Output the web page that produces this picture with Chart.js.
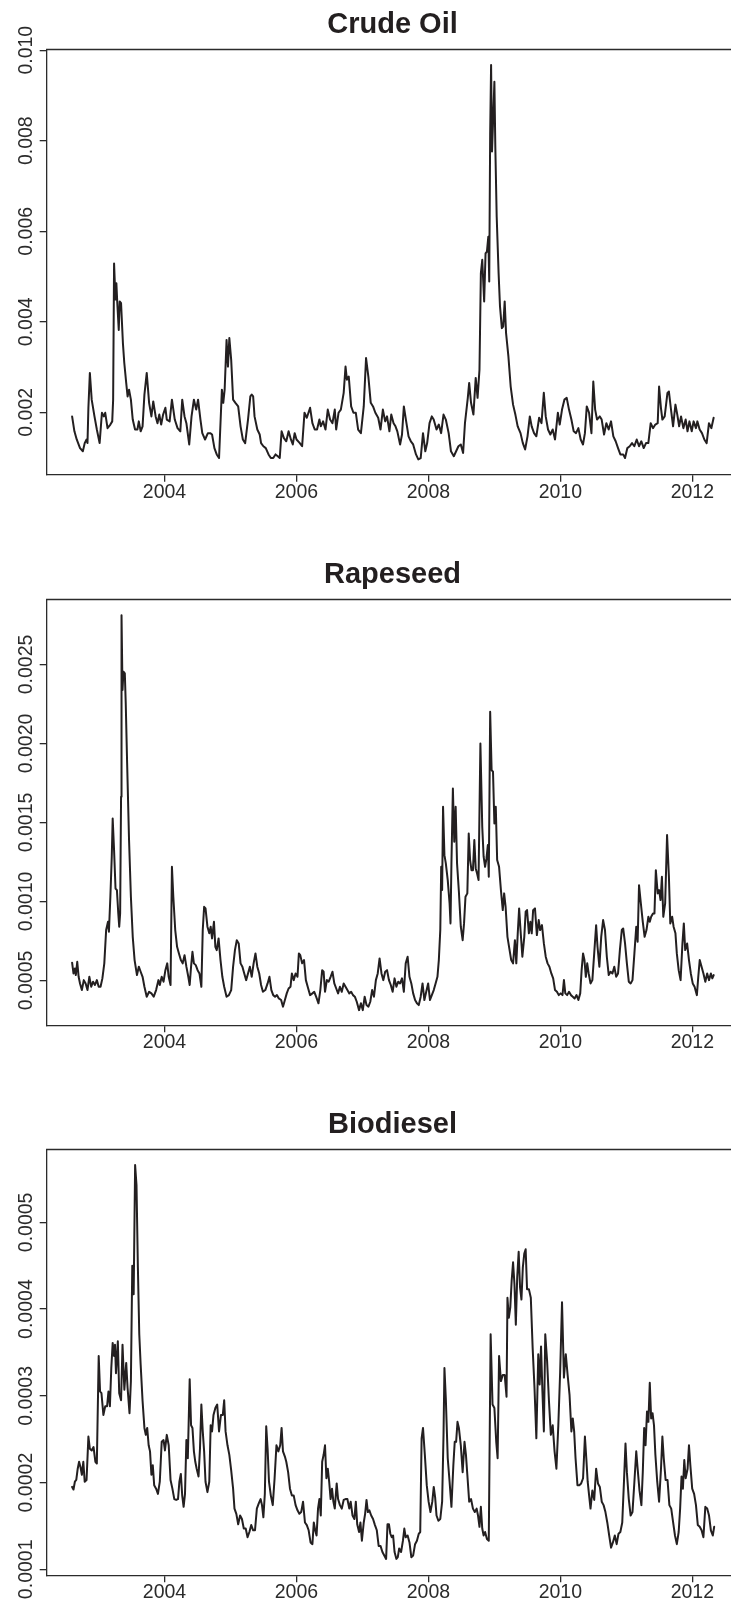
<!DOCTYPE html>
<html><head><meta charset="utf-8">
<script src="https://cdn.jsdelivr.net/npm/chart.js@4.4.1/dist/chart.umd.min.js"></script>
<style>
html,body{margin:0;padding:0;background:#fff;}
body{width:731px;height:1605px;position:relative;overflow:hidden;}
.panel{position:absolute;left:0;width:731px;}
canvas{display:block;}
</style></head><body>
<div class="panel" style="top:0;height:550px"><canvas id="c1" width="731" height="550"></canvas></div>
<div class="panel" style="top:550px;height:550px"><canvas id="c2" width="731" height="550"></canvas></div>
<div class="panel" style="top:1100px;height:505px"><canvas id="c3" width="731" height="505"></canvas></div>
<script>
// ---------------- DATA ----------------
const titles = ["Crude Oil", "Rapeseed", "Biodiesel"];
const xTicks = [2004, 2006, 2008, 2010, 2012];

const crudeTicks = [0.002, 0.004, 0.006, 0.008, 0.010];
const crudeTickLabels = ["0.002", "0.004", "0.006", "0.008", "0.010"];
const rapeTicks = [0.0005, 0.0010, 0.0015, 0.0020, 0.0025];
const rapeTickLabels = ["0.0005", "0.0010", "0.0015", "0.0020", "0.0025"];
const bioTicks = [0.0001, 0.0002, 0.0003, 0.0004, 0.0005];
const bioTickLabels = ["0.0001", "0.0002", "0.0003", "0.0004", "0.0005"];

const crudeYear = [
2002.600,2002.635,2002.670,2002.720,2002.763,2002.791,2002.819,2002.833,2002.847,2002.869,
2002.897,2002.939,2002.975,2003.017,2003.052,2003.081,2003.102,2003.137,2003.180,2003.208,
2003.222,2003.236,2003.257,2003.271,2003.285,2003.307,2003.321,2003.342,2003.370,2003.391,
2003.420,2003.441,2003.463,2003.491,2003.519,2003.554,2003.590,2003.611,2003.639,2003.668,
2003.696,2003.731,2003.767,2003.802,2003.830,2003.866,2003.894,2003.922,2003.950,2003.979,
2004.014,2004.035,2004.078,2004.113,2004.156,2004.198,2004.240,2004.269,2004.304,2004.332,
2004.375,2004.410,2004.446,2004.481,2004.509,2004.545,2004.573,2004.615,2004.658,2004.693,
2004.721,2004.757,2004.792,2004.827,2004.870,2004.891,2004.912,2004.941,2004.962,2004.983,
2005.011,2005.040,2005.075,2005.117,2005.153,2005.188,2005.223,2005.266,2005.301,2005.322,
2005.344,2005.365,2005.407,2005.443,2005.464,2005.499,2005.535,2005.577,2005.612,2005.648,
2005.683,2005.718,2005.747,2005.775,2005.810,2005.846,2005.881,2005.916,2005.945,2005.973,
2006.001,2006.051,2006.086,2006.122,2006.157,2006.207,2006.242,2006.277,2006.312,2006.348,
2006.369,2006.404,2006.440,2006.475,2006.510,2006.546,2006.581,2006.602,2006.638,2006.673,
2006.716,2006.744,2006.765,2006.793,2006.829,2006.864,2006.900,2006.935,2006.977,2007.020,
2007.055,2007.090,2007.126,2007.161,2007.196,2007.239,2007.274,2007.310,2007.345,2007.373,
2007.409,2007.437,2007.472,2007.501,2007.529,2007.571,2007.600,2007.628,2007.663,2007.699,
2007.734,2007.769,2007.812,2007.847,2007.883,2007.918,2007.953,2007.981,2008.017,2008.052,
2008.080,2008.123,2008.158,2008.193,2008.229,2008.264,2008.307,2008.342,2008.385,2008.420,
2008.455,2008.491,2008.526,2008.554,2008.597,2008.618,2008.646,2008.682,2008.717,2008.745,
2008.774,2008.795,2008.816,2008.845,2008.866,2008.887,2008.908,2008.922,2008.936,2008.950,
2008.964,2008.986,2009.000,2009.014,2009.035,2009.064,2009.085,2009.113,2009.134,2009.156,
2009.177,2009.212,2009.247,2009.283,2009.318,2009.353,2009.396,2009.431,2009.466,2009.502,
2009.537,2009.565,2009.601,2009.636,2009.678,2009.714,2009.749,2009.778,2009.813,2009.848,
2009.884,2009.919,2009.962,2009.990,2010.025,2010.061,2010.096,2010.131,2010.167,2010.202,
2010.237,2010.273,2010.308,2010.343,2010.372,2010.400,2010.435,2010.471,2010.499,2010.527,
2010.556,2010.598,2010.626,2010.662,2010.697,2010.732,2010.768,2010.803,2010.838,2010.874,
2010.909,2010.952,2010.980,2011.015,2011.051,2011.086,2011.121,2011.157,2011.192,2011.227,
2011.263,2011.298,2011.333,2011.369,2011.404,2011.439,2011.475,2011.496,2011.524,2011.546,
2011.581,2011.623,2011.645,2011.680,2011.708,2011.744,2011.772,2011.800,2011.829,2011.864,
2011.899,2011.927,2011.956,2011.991,2012.019,2012.055,2012.076,2012.111,2012.146,2012.182,
2012.217,2012.252,2012.288,2012.323];
const crudeVol = [
0.00191,0.00158,0.00140,0.00121,0.00114,0.00132,0.00140,0.00132,0.00210,0.00287,
0.00228,0.00191,0.00162,0.00132,0.00199,0.00191,0.00199,0.00165,0.00173,0.00180,
0.00228,0.00529,0.00449,0.00485,0.00441,0.00382,0.00445,0.00441,0.00353,0.00309,
0.00265,0.00235,0.00250,0.00228,0.00184,0.00162,0.00162,0.00180,0.00158,0.00169,
0.00239,0.00287,0.00221,0.00191,0.00224,0.00191,0.00176,0.00195,0.00173,0.00195,
0.00210,0.00184,0.00180,0.00228,0.00184,0.00165,0.00158,0.00228,0.00191,0.00176,
0.00129,0.00191,0.00228,0.00206,0.00228,0.00184,0.00154,0.00140,0.00154,0.00154,
0.00151,0.00121,0.00107,0.00099,0.00250,0.00221,0.00250,0.00360,0.00301,0.00364,
0.00316,0.00228,0.00221,0.00213,0.00169,0.00140,0.00132,0.00184,0.00235,0.00239,
0.00235,0.00191,0.00162,0.00151,0.00132,0.00125,0.00121,0.00107,0.00099,0.00099,
0.00107,0.00103,0.00099,0.00158,0.00143,0.00136,0.00158,0.00140,0.00129,0.00154,
0.00140,0.00132,0.00125,0.00199,0.00188,0.00210,0.00176,0.00162,0.00162,0.00184,
0.00169,0.00180,0.00162,0.00206,0.00184,0.00176,0.00206,0.00162,0.00199,0.00206,
0.00243,0.00301,0.00272,0.00279,0.00213,0.00199,0.00199,0.00162,0.00154,0.00213,
0.00320,0.00279,0.00221,0.00213,0.00199,0.00188,0.00162,0.00206,0.00180,0.00191,
0.00158,0.00195,0.00176,0.00169,0.00158,0.00129,0.00151,0.00213,0.00180,0.00147,
0.00136,0.00129,0.00107,0.00096,0.00099,0.00154,0.00114,0.00132,0.00176,0.00191,
0.00184,0.00162,0.00173,0.00154,0.00195,0.00184,0.00154,0.00114,0.00103,0.00114,
0.00125,0.00129,0.00110,0.00176,0.00232,0.00265,0.00221,0.00195,0.00276,0.00232,
0.00294,0.00507,0.00537,0.00445,0.00551,0.00555,0.00588,0.00489,0.00816,0.00967,
0.00776,0.00868,0.00930,0.00787,0.00632,0.00507,0.00434,0.00386,0.00390,0.00445,
0.00375,0.00324,0.00257,0.00217,0.00195,0.00169,0.00154,0.00132,0.00118,0.00147,
0.00191,0.00169,0.00154,0.00147,0.00188,0.00176,0.00243,0.00191,0.00162,0.00151,
0.00162,0.00140,0.00199,0.00173,0.00206,0.00228,0.00232,0.00206,0.00184,0.00158,
0.00154,0.00165,0.00140,0.00129,0.00154,0.00213,0.00199,0.00154,0.00268,0.00206,
0.00184,0.00191,0.00184,0.00151,0.00176,0.00162,0.00180,0.00147,0.00136,0.00121,
0.00107,0.00107,0.00099,0.00121,0.00125,0.00132,0.00125,0.00140,0.00125,0.00136,
0.00121,0.00132,0.00132,0.00176,0.00165,0.00173,0.00176,0.00257,0.00210,0.00184,
0.00191,0.00243,0.00246,0.00202,0.00169,0.00217,0.00195,0.00169,0.00191,0.00165,
0.00184,0.00158,0.00180,0.00158,0.00180,0.00165,0.00180,0.00162,0.00154,0.00140,
0.00132,0.00176,0.00165,0.00188];

const rapeYear = [
2002.600,2002.621,2002.642,2002.656,2002.678,2002.699,2002.720,2002.748,2002.777,2002.805,
2002.833,2002.861,2002.890,2002.918,2002.946,2002.975,2003.003,2003.031,2003.059,2003.088,
2003.116,2003.144,2003.158,2003.180,2003.201,2003.215,2003.236,2003.258,2003.279,2003.300,
2003.314,2003.328,2003.342,2003.349,2003.364,2003.378,2003.399,2003.413,2003.434,2003.463,
2003.491,2003.519,2003.547,2003.583,2003.611,2003.639,2003.668,2003.696,2003.731,2003.767,
2003.802,2003.837,2003.873,2003.908,2003.929,2003.958,2003.986,2004.014,2004.042,2004.064,
2004.092,2004.113,2004.134,2004.163,2004.191,2004.219,2004.248,2004.276,2004.304,2004.332,
2004.361,2004.382,2004.403,2004.424,2004.446,2004.474,2004.502,2004.530,2004.559,2004.580,
2004.601,2004.622,2004.651,2004.679,2004.700,2004.721,2004.750,2004.771,2004.792,2004.820,
2004.849,2004.877,2004.905,2004.941,2004.976,2005.011,2005.040,2005.068,2005.096,2005.125,
2005.153,2005.181,2005.209,2005.238,2005.266,2005.294,2005.322,2005.351,2005.379,2005.407,
2005.436,2005.464,2005.492,2005.528,2005.563,2005.591,2005.620,2005.648,2005.676,2005.704,
2005.733,2005.768,2005.796,2005.825,2005.853,2005.881,2005.910,2005.931,2005.959,2005.987,
2006.016,2006.037,2006.058,2006.086,2006.115,2006.143,2006.178,2006.207,2006.242,2006.270,
2006.298,2006.334,2006.362,2006.390,2006.412,2006.433,2006.461,2006.489,2006.518,2006.546,
2006.574,2006.603,2006.631,2006.659,2006.687,2006.716,2006.744,2006.772,2006.801,2006.829,
2006.857,2006.885,2006.914,2006.949,2006.977,2007.006,2007.034,2007.062,2007.091,2007.119,
2007.147,2007.175,2007.204,2007.232,2007.260,2007.289,2007.317,2007.345,2007.373,2007.402,
2007.430,2007.458,2007.487,2007.515,2007.543,2007.571,2007.600,2007.628,2007.656,2007.685,
2007.713,2007.741,2007.769,2007.798,2007.826,2007.854,2007.883,2007.911,2007.939,2007.967,
2007.996,2008.024,2008.052,2008.081,2008.109,2008.137,2008.158,2008.180,2008.194,2008.208,
2008.222,2008.243,2008.264,2008.293,2008.321,2008.335,2008.349,2008.371,2008.392,2008.413,
2008.434,2008.462,2008.491,2008.519,2008.540,2008.562,2008.590,2008.611,2008.632,2008.653,
2008.675,2008.696,2008.717,2008.738,2008.760,2008.788,2008.816,2008.837,2008.859,2008.880,
2008.901,2008.915,2008.936,2008.958,2008.979,2009.000,2009.021,2009.042,2009.071,2009.099,
2009.127,2009.148,2009.170,2009.198,2009.226,2009.255,2009.283,2009.311,2009.332,2009.354,
2009.375,2009.396,2009.424,2009.453,2009.474,2009.495,2009.523,2009.545,2009.566,2009.587,
2009.615,2009.644,2009.672,2009.693,2009.721,2009.750,2009.778,2009.806,2009.834,2009.863,
2009.891,2009.919,2009.948,2009.976,2010.004,2010.032,2010.054,2010.075,2010.103,2010.131,
2010.160,2010.188,2010.216,2010.245,2010.273,2010.301,2010.322,2010.344,2010.365,2010.386,
2010.407,2010.429,2010.457,2010.485,2010.513,2010.542,2010.563,2010.591,2010.619,2010.648,
2010.676,2010.704,2010.733,2010.761,2010.789,2010.817,2010.846,2010.874,2010.902,2010.931,
2010.952,2010.980,2011.008,2011.037,2011.065,2011.093,2011.122,2011.150,2011.171,2011.192,
2011.220,2011.249,2011.277,2011.305,2011.334,2011.355,2011.376,2011.404,2011.426,2011.447,
2011.475,2011.496,2011.518,2011.539,2011.560,2011.588,2011.617,2011.645,2011.666,2011.694,
2011.716,2011.744,2011.765,2011.793,2011.822,2011.850,2011.871,2011.892,2011.921,2011.949,
2011.977,2012.006,2012.034,2012.069,2012.090,2012.112,2012.140,2012.168,2012.197,2012.225,
2012.253,2012.281,2012.303,2012.324];
const rapeVol = [
0.000612,0.000544,0.000576,0.000534,0.000618,0.000523,0.000481,0.000439,0.000502,0.000481,
0.000439,0.000523,0.000460,0.000492,0.000471,0.000502,0.000460,0.000460,0.000513,0.000608,
0.000819,0.000871,0.000808,0.001030,0.001283,0.001525,0.001325,0.001082,0.001072,0.000924,
0.000840,0.000924,0.001663,0.002812,0.002338,0.002454,0.002443,0.002253,0.001874,0.001389,
0.001030,0.000776,0.000629,0.000534,0.000587,0.000555,0.000523,0.000460,0.000397,0.000428,
0.000418,0.000397,0.000439,0.000502,0.000471,0.000523,0.000492,0.000565,0.000608,0.000523,
0.000471,0.001219,0.001030,0.000819,0.000713,0.000671,0.000629,0.000608,0.000660,0.000587,
0.000523,0.000471,0.000587,0.000681,0.000608,0.000597,0.000565,0.000544,0.000460,0.000819,
0.000966,0.000956,0.000840,0.000798,0.000840,0.000766,0.000871,0.000713,0.000692,0.000766,
0.000629,0.000523,0.000460,0.000397,0.000407,0.000439,0.000587,0.000692,0.000755,0.000734,
0.000608,0.000587,0.000544,0.000502,0.000544,0.000587,0.000523,0.000608,0.000671,0.000587,
0.000544,0.000471,0.000428,0.000439,0.000481,0.000523,0.000439,0.000407,0.000397,0.000407,
0.000386,0.000376,0.000334,0.000376,0.000418,0.000449,0.000460,0.000544,0.000502,0.000544,
0.000523,0.000671,0.000660,0.000608,0.000629,0.000502,0.000449,0.000407,0.000418,0.000428,
0.000397,0.000355,0.000439,0.000565,0.000555,0.000428,0.000502,0.000492,0.000523,0.000555,
0.000481,0.000449,0.000418,0.000460,0.000428,0.000481,0.000460,0.000439,0.000418,0.000428,
0.000407,0.000397,0.000365,0.000312,0.000355,0.000312,0.000397,0.000344,0.000334,0.000365,
0.000439,0.000397,0.000502,0.000544,0.000639,0.000544,0.000502,0.000555,0.000565,0.000502,
0.000471,0.000428,0.000513,0.000460,0.000492,0.000481,0.000513,0.000428,0.000608,0.000650,
0.000523,0.000481,0.000418,0.000376,0.000355,0.000344,0.000397,0.000481,0.000376,0.000428,
0.000481,0.000376,0.000407,0.000439,0.000481,0.000523,0.000629,0.000819,0.001219,0.001072,
0.001599,0.001293,0.001241,0.001135,0.000987,0.000861,0.001241,0.001715,0.001378,0.001599,
0.001241,0.001061,0.000840,0.000755,0.000861,0.001030,0.001051,0.001430,0.001262,0.001198,
0.001198,0.001389,0.001209,0.001177,0.001135,0.002000,0.001473,0.001283,0.001219,0.001272,
0.001357,0.001156,0.002201,0.001831,0.001821,0.001494,0.001599,0.001262,0.001219,0.001072,
0.000945,0.001051,0.000966,0.000776,0.000703,0.000629,0.000608,0.000755,0.000608,0.000798,
0.000956,0.000819,0.000650,0.000776,0.000935,0.000945,0.000798,0.000871,0.000798,0.000945,
0.000956,0.000787,0.000882,0.000819,0.000850,0.000734,0.000650,0.000608,0.000587,0.000544,
0.000513,0.000439,0.000428,0.000407,0.000418,0.000407,0.000502,0.000418,0.000407,0.000428,
0.000407,0.000397,0.000386,0.000407,0.000376,0.000418,0.000565,0.000671,0.000629,0.000523,
0.000608,0.000544,0.000481,0.000502,0.000671,0.000850,0.000713,0.000587,0.000776,0.000882,
0.000819,0.000650,0.000534,0.000555,0.000544,0.000587,0.000523,0.000544,0.000692,0.000819,
0.000829,0.000734,0.000608,0.000492,0.000481,0.000502,0.000671,0.000840,0.000745,0.001103,
0.000987,0.000871,0.000776,0.000819,0.000903,0.000871,0.000903,0.000924,0.000924,0.001198,
0.001051,0.001072,0.001009,0.001156,0.000903,0.000987,0.001420,0.001156,0.000861,0.000903,
0.000840,0.000798,0.000671,0.000565,0.000502,0.000734,0.000861,0.000692,0.000734,0.000629,
0.000544,0.000481,0.000460,0.000407,0.000523,0.000629,0.000587,0.000544,0.000492,0.000544,
0.000502,0.000544,0.000513,0.000534];

const bioYear = [
2002.600,2002.621,2002.642,2002.663,2002.685,2002.706,2002.727,2002.748,2002.770,2002.791,
2002.819,2002.847,2002.869,2002.897,2002.925,2002.953,2002.975,2003.003,2003.024,2003.045,
2003.074,2003.102,2003.130,2003.151,2003.173,2003.194,2003.215,2003.236,2003.250,2003.265,
2003.293,2003.314,2003.342,2003.364,2003.392,2003.420,2003.441,2003.470,2003.491,2003.512,
2003.533,2003.555,2003.576,2003.597,2003.618,2003.639,2003.668,2003.696,2003.717,2003.738,
2003.760,2003.781,2003.802,2003.823,2003.844,2003.873,2003.901,2003.929,2003.958,2003.986,
2004.007,2004.035,2004.064,2004.092,2004.120,2004.149,2004.177,2004.205,2004.226,2004.248,
2004.269,2004.290,2004.311,2004.332,2004.354,2004.382,2004.403,2004.424,2004.446,2004.467,
2004.488,2004.516,2004.538,2004.559,2004.580,2004.601,2004.622,2004.651,2004.679,2004.700,
2004.721,2004.743,2004.771,2004.799,2004.827,2004.856,2004.884,2004.905,2004.926,2004.955,
2004.983,2005.011,2005.040,2005.061,2005.089,2005.117,2005.146,2005.174,2005.202,2005.231,
2005.259,2005.287,2005.315,2005.344,2005.372,2005.400,2005.429,2005.457,2005.478,2005.499,
2005.521,2005.542,2005.563,2005.584,2005.612,2005.641,2005.669,2005.697,2005.726,2005.754,
2005.775,2005.796,2005.825,2005.846,2005.874,2005.902,2005.931,2005.959,2005.987,2006.016,
2006.044,2006.072,2006.100,2006.129,2006.157,2006.185,2006.214,2006.242,2006.263,2006.284,
2006.305,2006.327,2006.348,2006.369,2006.390,2006.412,2006.433,2006.454,2006.475,2006.496,
2006.518,2006.539,2006.560,2006.581,2006.610,2006.631,2006.659,2006.687,2006.716,2006.744,
2006.772,2006.801,2006.822,2006.850,2006.878,2006.900,2006.921,2006.949,2006.970,2006.992,
2007.020,2007.041,2007.062,2007.083,2007.105,2007.133,2007.161,2007.190,2007.218,2007.246,
2007.274,2007.303,2007.331,2007.359,2007.380,2007.402,2007.423,2007.444,2007.465,2007.487,
2007.515,2007.536,2007.557,2007.586,2007.614,2007.635,2007.656,2007.685,2007.713,2007.741,
2007.769,2007.798,2007.826,2007.854,2007.876,2007.897,2007.918,2007.946,2007.975,2008.003,
2008.031,2008.059,2008.081,2008.102,2008.123,2008.151,2008.180,2008.208,2008.229,2008.243,
2008.264,2008.293,2008.321,2008.349,2008.378,2008.399,2008.420,2008.441,2008.462,2008.491,
2008.519,2008.547,2008.569,2008.590,2008.618,2008.646,2008.675,2008.703,2008.731,2008.752,
2008.774,2008.795,2008.816,2008.837,2008.859,2008.887,2008.915,2008.943,2008.972,2009.000,
2009.028,2009.049,2009.071,2009.099,2009.127,2009.156,2009.184,2009.198,2009.219,2009.241,
2009.262,2009.283,2009.304,2009.325,2009.346,2009.368,2009.389,2009.410,2009.431,2009.453,
2009.474,2009.495,2009.523,2009.552,2009.580,2009.608,2009.636,2009.665,2009.686,2009.707,
2009.728,2009.750,2009.771,2009.799,2009.827,2009.856,2009.884,2009.912,2009.940,2009.969,
2009.997,2010.025,2010.054,2010.082,2010.110,2010.139,2010.167,2010.188,2010.209,2010.230,
2010.259,2010.287,2010.315,2010.344,2010.372,2010.393,2010.414,2010.436,2010.457,2010.485,
2010.513,2010.542,2010.570,2010.598,2010.627,2010.655,2010.683,2010.711,2010.740,2010.768,
2010.796,2010.825,2010.853,2010.881,2010.909,2010.938,2010.966,2010.987,2011.008,2011.037,
2011.065,2011.093,2011.122,2011.150,2011.171,2011.199,2011.228,2011.249,2011.270,2011.291,
2011.313,2011.334,2011.355,2011.376,2011.397,2011.419,2011.440,2011.468,2011.496,2011.525,
2011.546,2011.567,2011.595,2011.624,2011.652,2011.680,2011.709,2011.737,2011.765,2011.793,
2011.815,2011.836,2011.857,2011.878,2011.899,2011.928,2011.949,2011.970,2011.998,2012.027,
2012.055,2012.083,2012.112,2012.140,2012.168,2012.197,2012.225,2012.253,2012.281,2012.310,
2012.331];
const bioVol = [
0.000195,0.000192,0.000201,0.000203,0.000216,0.000224,0.000218,0.000209,0.000224,0.000201,
0.000203,0.000253,0.000239,0.000237,0.000241,0.000224,0.000222,0.000346,0.000305,0.000303,
0.000278,0.000288,0.000288,0.000305,0.000288,0.000332,0.000361,0.000346,0.000359,0.000326,
0.000363,0.000303,0.000295,0.000359,0.000307,0.000338,0.000309,0.000280,0.000317,0.000450,
0.000417,0.000566,0.000543,0.000448,0.000371,0.000336,0.000294,0.000263,0.000255,0.000263,
0.000243,0.000236,0.000209,0.000220,0.000197,0.000193,0.000187,0.000201,0.000247,0.000249,
0.000237,0.000255,0.000243,0.000203,0.000193,0.000181,0.000180,0.000181,0.000201,0.000210,
0.000185,0.000172,0.000187,0.000249,0.000228,0.000319,0.000266,0.000263,0.000236,0.000224,
0.000216,0.000207,0.000239,0.000290,0.000259,0.000236,0.000201,0.000189,0.000201,0.000266,
0.000259,0.000278,0.000286,0.000290,0.000259,0.000278,0.000278,0.000295,0.000259,0.000243,
0.000232,0.000214,0.000193,0.000170,0.000164,0.000152,0.000162,0.000158,0.000147,0.000147,
0.000137,0.000143,0.000151,0.000145,0.000145,0.000170,0.000176,0.000181,0.000174,0.000160,
0.000187,0.000265,0.000239,0.000201,0.000185,0.000174,0.000205,0.000243,0.000236,0.000243,
0.000263,0.000236,0.000230,0.000224,0.000212,0.000193,0.000185,0.000185,0.000174,0.000168,
0.000164,0.000166,0.000178,0.000154,0.000151,0.000145,0.000131,0.000129,0.000154,0.000145,
0.000139,0.000170,0.000181,0.000162,0.000224,0.000232,0.000243,0.000205,0.000216,0.000201,
0.000181,0.000193,0.000178,0.000170,0.000199,0.000181,0.000174,0.000170,0.000180,0.000181,
0.000181,0.000170,0.000178,0.000162,0.000158,0.000178,0.000152,0.000143,0.000154,0.000133,
0.000154,0.000164,0.000180,0.000166,0.000168,0.000162,0.000158,0.000151,0.000145,0.000127,
0.000127,0.000120,0.000116,0.000112,0.000152,0.000152,0.000141,0.000137,0.000139,0.000120,
0.000112,0.000114,0.000124,0.000120,0.000133,0.000147,0.000137,0.000139,0.000131,0.000114,
0.000116,0.000129,0.000133,0.000141,0.000143,0.000251,0.000263,0.000232,0.000197,0.000178,
0.000166,0.000178,0.000195,0.000183,0.000162,0.000156,0.000158,0.000178,0.000255,0.000332,
0.000297,0.000228,0.000201,0.000172,0.000220,0.000247,0.000247,0.000270,0.000263,0.000243,
0.000212,0.000247,0.000232,0.000209,0.000178,0.000181,0.000170,0.000166,0.000170,0.000162,
0.000149,0.000172,0.000147,0.000139,0.000143,0.000135,0.000133,0.000371,0.000290,0.000286,
0.000247,0.000228,0.000346,0.000317,0.000324,0.000324,0.000299,0.000413,0.000390,0.000402,
0.000433,0.000454,0.000429,0.000382,0.000437,0.000466,0.000425,0.000411,0.000448,0.000464,
0.000469,0.000423,0.000423,0.000413,0.000355,0.000309,0.000251,0.000348,0.000313,0.000357,
0.000305,0.000259,0.000371,0.000340,0.000294,0.000255,0.000266,0.000236,0.000216,0.000266,
0.000328,0.000408,0.000321,0.000348,0.000324,0.000301,0.000259,0.000274,0.000259,0.000228,
0.000197,0.000197,0.000199,0.000205,0.000253,0.000228,0.000201,0.000185,0.000170,0.000191,
0.000180,0.000216,0.000199,0.000195,0.000178,0.000174,0.000166,0.000154,0.000139,0.000125,
0.000131,0.000139,0.000129,0.000141,0.000143,0.000154,0.000205,0.000245,0.000212,0.000181,
0.000162,0.000166,0.000201,0.000236,0.000216,0.000191,0.000174,0.000212,0.000263,0.000243,
0.000282,0.000270,0.000315,0.000274,0.000280,0.000266,0.000232,0.000201,0.000178,0.000216,
0.000253,0.000228,0.000203,0.000203,0.000174,0.000170,0.000154,0.000139,0.000129,0.000143,
0.000170,0.000207,0.000193,0.000226,0.000205,0.000216,0.000243,0.000220,0.000193,0.000187,
0.000174,0.000151,0.000149,0.000145,0.000137,0.000172,0.000170,0.000162,0.000145,0.000139,
0.000149];

// ---------------- STYLE / LAYOUT ----------------
const FONT = '"Liberation Sans", Arial, Helvetica, sans-serif';
const INK = '#231f20';
const AXIS = '#2b2b2b';
const X_MIN = 2002.215, X_MAX = 2012.586;
const PLOT_TOP = 49.5, Y_AXIS_W = 46.7, TICK_LEN = 7;
const TITLE_CX = 392.5;

function makePanel(canvasId, title, xs, ys, yMin, yMax, yTicks, yLabels, xAxisH) {
  const n = Math.min(xs.length, ys.length);
  const pts = [];
  for (let i = 0; i < n; i++) pts.push({ x: xs[i], y: ys[i] });

  const decor = {
    id: 'decor_' + canvasId,
    afterDraw(chart) {
      const c = chart.ctx, a = chart.chartArea, ys_ = chart.scales.y;
      c.save();
      // top edge of the box
      c.strokeStyle = AXIS; c.lineWidth = 1.3;
      c.beginPath(); c.moveTo(a.left - 0.65, a.top); c.lineTo(a.right + 2, a.top); c.stroke();
      // title
      c.fillStyle = INK;
      c.font = 'bold 29px ' + FONT;
      c.textAlign = 'center'; c.textBaseline = 'alphabetic';
      c.fillText(title, TITLE_CX, a.top - 16.2);
      // rotated y tick labels
      c.fillStyle = AXIS;
      c.font = '19.5px ' + FONT;
      yTicks.forEach((v, i) => {
        const py = ys_.getPixelForValue(v);
        c.save();
        c.translate(32.3, py);
        c.rotate(-Math.PI / 2);
        c.textAlign = 'center'; c.textBaseline = 'alphabetic';
        c.fillText(yLabels[i], 0, 0);
        c.restore();
      });
      c.restore();
    }
  };

  return new Chart(document.getElementById(canvasId), {
    type: 'line',
    data: { datasets: [{ data: pts, borderColor: INK, borderWidth: 2, pointRadius: 0,
      tension: 0, fill: false, borderJoinStyle: 'round', borderCapStyle: 'round' }] },
    options: {
      responsive: false, animation: false, devicePixelRatio: 1, parsing: true,
      layout: { padding: { top: PLOT_TOP, left: 0, right: 0, bottom: 0 } },
      plugins: { legend: { display: false }, tooltip: { enabled: false }, title: { display: false } },
      scales: {
        x: {
          type: 'linear', min: X_MIN, max: X_MAX,
          afterBuildTicks: s => { s.ticks = xTicks.map(v => ({ value: v })); },
          afterFit: s => { s.height = xAxisH; },
          grid: { display: true, drawOnChartArea: false, drawTicks: true, tickLength: TICK_LEN, color: AXIS, lineWidth: 1.3 },
          border: { display: true, color: AXIS, width: 1.3 },
          ticks: { color: AXIS, font: { family: FONT, size: 19.5 }, padding: -1, maxRotation: 0, minRotation: 0,
            autoSkip: false, callback: v => String(v) }
        },
        y: {
          type: 'linear', min: yMin, max: yMax,
          afterBuildTicks: s => { s.ticks = yTicks.map(v => ({ value: v })); },
          afterFit: s => { s.width = Y_AXIS_W; },
          grid: { display: true, drawOnChartArea: false, drawTicks: true, tickLength: TICK_LEN, color: AXIS, lineWidth: 1.3 },
          border: { display: true, color: AXIS, width: 1.3 },
          ticks: { display: false }
        }
      }
    },
    plugins: [decor]
  });
}

makePanel('c1', titles[0], crudeYear, crudeVol, 0.000622, 0.010015, crudeTicks, crudeTickLabels, 75.3);
makePanel('c2', titles[1], rapeYear, rapeVol, 0.000216, 0.002911, rapeTicks, rapeTickLabels, 74.7);
makePanel('c3', titles[2], bioYear, bioVol, 0.0000931, 0.000584, bioTicks, bioTickLabels, 29.7);
</script>
</body></html>
